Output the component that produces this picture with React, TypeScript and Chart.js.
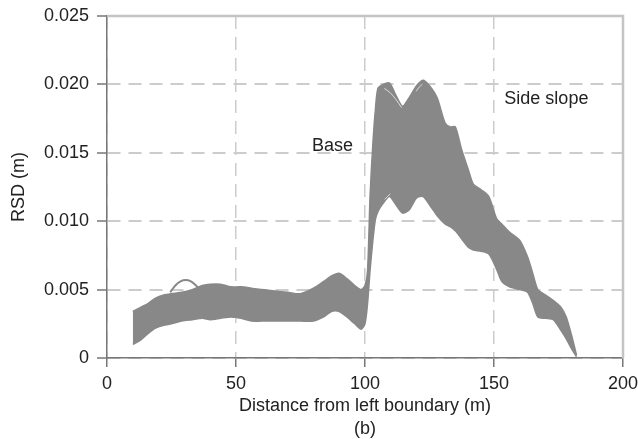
import React, { useEffect, useRef } from "react";
import { Chart, registerables } from "chart.js";

Chart.register(...registerables);

// Distance from left boundary (m)
const distance = [
  10, 13, 16, 19, 22, 25, 29, 33, 37, 40, 44, 48, 52, 56, 60, 65, 70, 75, 80, 84,
  87, 90, 93, 96, 98.5, 100, 101, 102, 103, 104, 105, 107, 109.5, 112, 114.5, 117,
  120, 122.5, 125, 128, 131, 133, 135, 137.5, 140, 142, 145, 148, 151, 153, 156,
  160, 163, 165, 167, 170, 173, 176, 178, 180, 182,
];

// Upper envelope of the RSD realisations (m)
const upperRSD = [
  0.0034, 0.0037, 0.004, 0.0044, 0.0046, 0.0047, 0.0048, 0.005, 0.0053, 0.0054,
  0.0054, 0.0052, 0.0052, 0.0051, 0.005, 0.0049, 0.0048, 0.0047, 0.0051, 0.0056,
  0.006, 0.0062, 0.0058, 0.0053, 0.005, 0.0053, 0.0064, 0.012, 0.0155, 0.0181,
  0.0197, 0.02, 0.0201, 0.0192, 0.0184, 0.019, 0.0199, 0.0203, 0.0199, 0.019,
  0.0172, 0.0169, 0.0169, 0.0152, 0.0138, 0.0127, 0.0123, 0.0118, 0.0102, 0.0098,
  0.0092, 0.0086, 0.0074, 0.0062, 0.005, 0.0046, 0.0042, 0.0037, 0.003, 0.0017,
  0.0002,
];

// Lower envelope of the RSD realisations (m)
const lowerRSD = [
  0.001, 0.0013, 0.0018, 0.0022, 0.0024, 0.0025, 0.0027, 0.0028, 0.0029, 0.0028,
  0.0029, 0.003, 0.0029, 0.0027, 0.0027, 0.0027, 0.0027, 0.0027, 0.0027, 0.003,
  0.0034, 0.0034, 0.003, 0.0025, 0.0021, 0.0025, 0.004, 0.0065, 0.0085, 0.0101,
  0.0107, 0.0113, 0.0118, 0.0112, 0.0106, 0.0108, 0.0117, 0.0118, 0.0112, 0.0104,
  0.0098, 0.0096, 0.0093, 0.0087, 0.0081, 0.0079, 0.0078, 0.0076, 0.0065, 0.0056,
  0.0052, 0.005, 0.0048, 0.004, 0.003, 0.0029, 0.0028, 0.002, 0.0014, 0.0007,
  0.0001,
];

// One realisation that loops above the band near x = 30 m
const loopDistance = [24.5, 26.5, 28.5, 30.5, 32.5, 34.5, 36];
const loopRSD = [0.0048, 0.0053, 0.0056, 0.0057, 0.0056, 0.0053, 0.005];

// Thin gaps between realisations visible inside the band
const gapPeakDistance = [107.5, 109.7, 112, 114.2];
const gapPeakRSD = [0.0197, 0.0194, 0.0189, 0.0183];
const gapPeak2Distance = [119.8, 121, 122.2];
const gapPeak2RSD = [0.0195, 0.0198, 0.02];
const gapLowDistance = [107.6, 108.7, 109.8];
const gapLowRSD = [0.0116, 0.0118, 0.012];

const xTicks = [0, 50, 100, 150, 200];
const yTicks = [0, 0.005, 0.01, 0.015, 0.02, 0.025];

const regionLabels = [
  { text: "Base", x: 87.4, y: 0.0155 },
  { text: "Side slope", x: 170.3, y: 0.0189 },
];

const FONT = "'Liberation Sans', Arial, Helvetica, sans-serif";
const BAND = "#888888";
const GAP = "rgba(255,255,255,0.7)";

const clearPadding = (s: any) => {
  s.paddingLeft = 0;
  s.paddingRight = 0;
  s.paddingTop = 0;
  s.paddingBottom = 0;
};

const gapSet = (xs: number[], ys: number[]) => ({
  label: "gap",
  data: xs.map((x, i) => ({ x, y: ys[i] })),
  borderColor: GAP,
  borderWidth: 1,
  pointRadius: 0,
  tension: 0.3,
  fill: false,
  order: -1,
});

export default function App() {
  const ref = useRef<HTMLCanvasElement | null>(null);

  useEffect(() => {
    document.body.style.margin = "0";
    const canvas = ref.current;
    if (!canvas) return;

    const frame = {
      id: "frameAndLabels",
      afterDatasetsDraw(chart: any) {
        const { ctx, chartArea, scales } = chart;
        ctx.save();
        ctx.strokeStyle = "#c4c4c4";
        ctx.lineWidth = 2.5;
        ctx.beginPath();
        ctx.moveTo(chartArea.left, chartArea.top);
        ctx.lineTo(chartArea.right, chartArea.top);
        ctx.lineTo(chartArea.right, chartArea.bottom);
        ctx.stroke();
        ctx.fillStyle = "#222";
        ctx.font = `18px ${FONT}`;
        ctx.textAlign = "center";
        ctx.textBaseline = "middle";
        for (const l of regionLabels) {
          ctx.fillText(l.text, scales.x.getPixelForValue(l.x), scales.y.getPixelForValue(l.y));
        }
        ctx.restore();
      },
    };

    const chart = new Chart(canvas, {
      type: "line",
      data: {
        datasets: [
          {
            label: "Lower",
            data: distance.map((x, i) => ({ x, y: lowerRSD[i] })),
            borderColor: BAND,
            backgroundColor: BAND,
            borderWidth: 1.5,
            pointRadius: 0,
            tension: 0.25,
            fill: false,
          },
          {
            label: "Upper",
            data: distance.map((x, i) => ({ x, y: upperRSD[i] })),
            borderColor: BAND,
            backgroundColor: BAND,
            borderWidth: 1.5,
            pointRadius: 0,
            tension: 0.25,
            fill: "-1",
          },
          {
            label: "Loop",
            data: loopDistance.map((x, i) => ({ x, y: loopRSD[i] })),
            borderColor: BAND,
            borderWidth: 2,
            pointRadius: 0,
            tension: 0.4,
            fill: false,
          },
          gapSet(gapPeakDistance, gapPeakRSD),
          gapSet(gapPeak2Distance, gapPeak2RSD),
          gapSet(gapLowDistance, gapLowRSD),
        ],
      },
      options: {
        animation: false,
        responsive: false,
        devicePixelRatio: 1,
        layout: { padding: { top: 16, right: 15, bottom: 0, left: 0 } },
        plugins: { legend: { display: false }, tooltip: { enabled: false } },
        scales: {
          x: {
            type: "linear",
            min: 0,
            max: 200,
            afterFit: (s: any) => {
              s.height = 81;
              clearPadding(s);
            },
            afterBuildTicks: (s: any) => {
              s.ticks = xTicks.map((v) => ({ value: v }));
            },
            ticks: {
              color: "#222",
              font: { family: FONT, size: 18 },
              padding: 6,
              maxRotation: 0,
              callback: (v: any) => String(v),
            },
            grid: {
              color: "#cccccc",
              lineWidth: 1.5,
              tickLength: 9,
              tickColor: "#777",
              tickWidth: 1.5,
            },
            border: { color: "#777", width: 1.5, dash: [13, 8] },
            title: {
              display: true,
              text: ["Distance from left boundary (m)", "(b)"],
              color: "#222",
              font: { family: FONT, size: 18, lineHeight: 1.25 },
              padding: { top: 0, bottom: -1 },
            },
          },
          y: {
            type: "linear",
            min: 0,
            max: 0.025,
            afterFit: (s: any) => {
              s.width = 107;
              clearPadding(s);
            },
            afterBuildTicks: (s: any) => {
              s.ticks = yTicks.map((v) => ({ value: v }));
            },
            ticks: {
              color: "#222",
              font: { family: FONT, size: 18 },
              padding: 8,
              callback: (v: any) => (v === 0 ? "0" : Number(v).toFixed(3)),
            },
            grid: {
              color: "#cccccc",
              lineWidth: 2,
              tickLength: 10,
              tickColor: "#777",
              tickWidth: 1.5,
            },
            border: { color: "#777", width: 1.5, dash: [13, 8] },
            title: {
              display: true,
              text: "RSD (m)",
              color: "#222",
              font: { family: FONT, size: 18, lineHeight: 1.25 },
              padding: { top: 8, bottom: 0 },
            },
          },
        },
      },
      plugins: [frame],
    });

    return () => chart.destroy();
  }, []);

  return (
    <div style={{ position: "fixed", left: 0, top: 0, width: 638, height: 439 }}>
      <canvas ref={ref} width={638} height={439} />
    </div>
  );
}
